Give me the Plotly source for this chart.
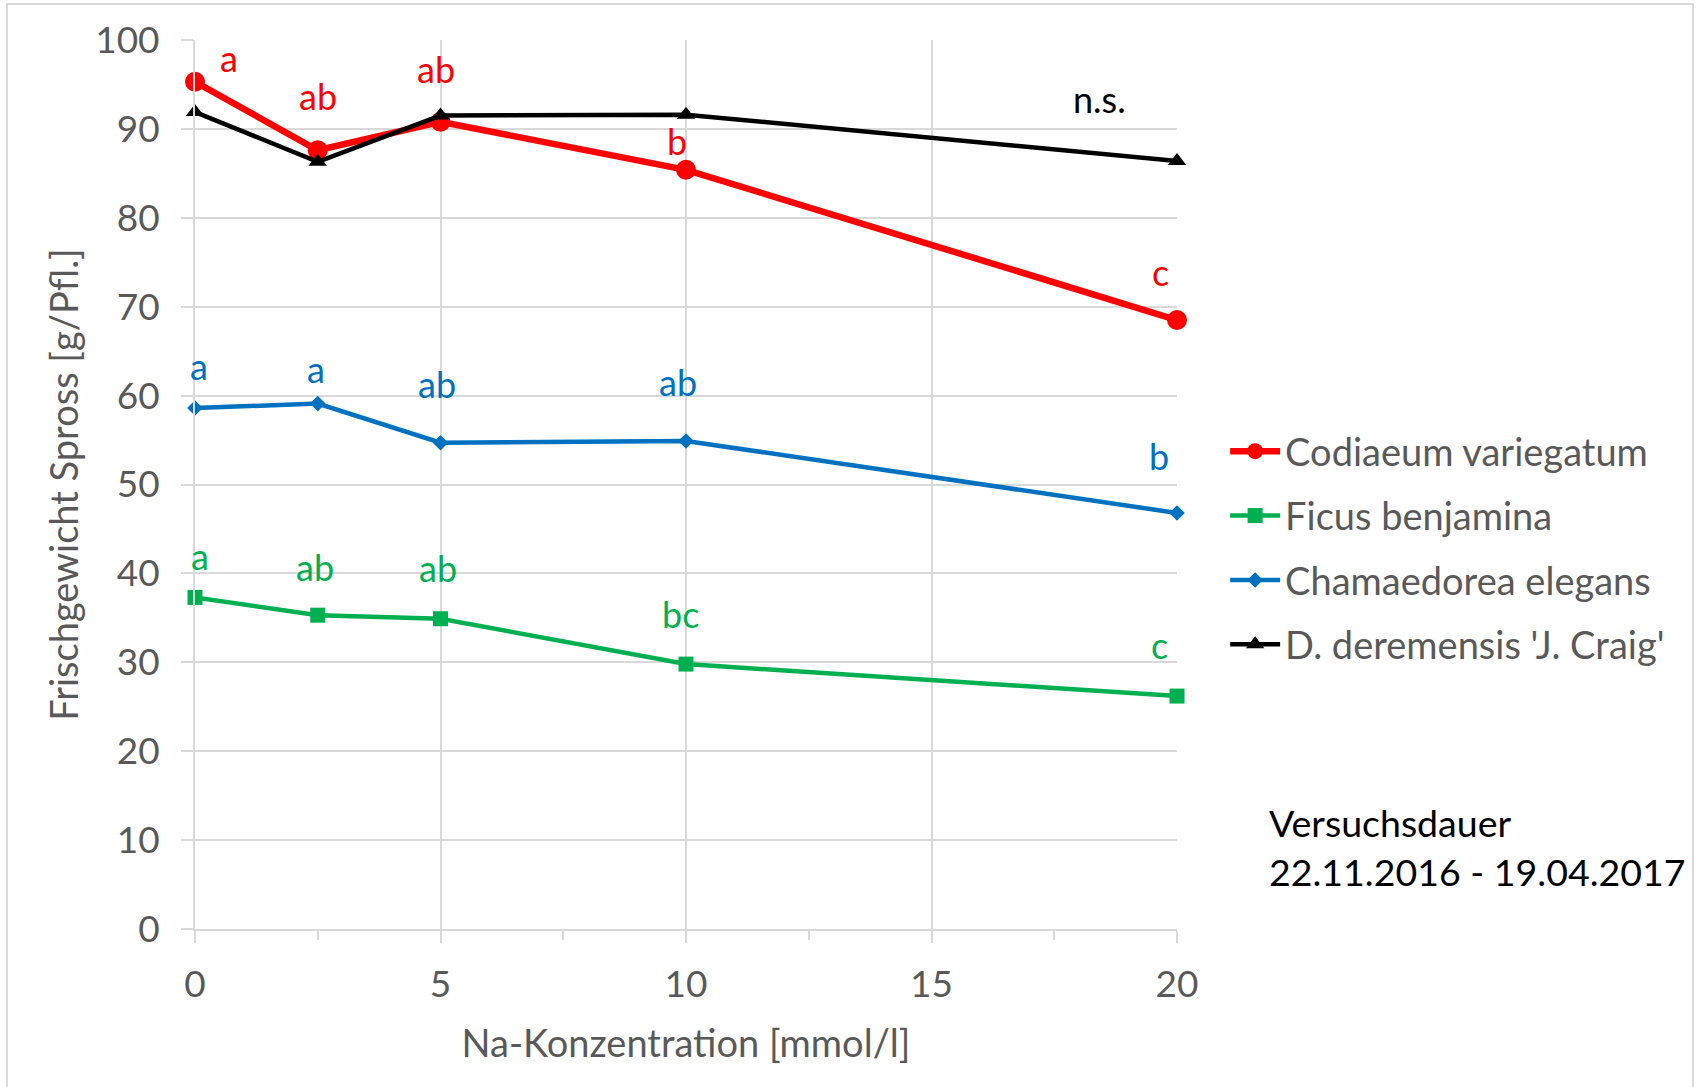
import plotly.graph_objects as go

# ---- data ----
na_conc = [0, 2.5, 5, 10, 20]
codiaeum = [95.3, 87.6, 90.8, 85.4, 68.5]
ficus = [37.3, 35.3, 34.9, 29.8, 26.2]
chamaedorea = [58.6, 59.1, 54.7, 54.9, 46.8]
dracaena = [91.9, 86.3, 91.5, 91.6, 86.4]

codiaeum_letters = ["a", "ab", "ab", "b", "c"]
ficus_letters = ["a", "ab", "ab", "bc", "c"]
chamaedorea_letters = ["a", "a", "ab", "ab", "b"]
dracaena_label = "n.s."

series_names = ["Codiaeum variegatum", "Ficus benjamina",
                "Chamaedorea elegans", "D. deremensis 'J. Craig'"]

# ---- styles / label offsets (pixels) ----
FONT = "Lato"
GRAY = "#595959"
GRID = "#D9D9D9"
RED, GREEN, BLUE, BLACK = "#FF0000", "#00B050", "#0070C0", "#000000"

red_off = [(34, 24), (0, 54), (-5, 53), (-9, 29), (-17, 48)]
blue_off = [(4, 42), (-2, 35), (-4, 59), (-8, 59), (-18, 57)]
green_off = [(5, 41), (-3, 48), (-3, 51), (-6, 50), (-18, 51)]
ns_off = (-78, 62)

fig = go.Figure()

traces = [
    (codiaeum, series_names[0], RED, "circle", 20, 6.5),
    (ficus, series_names[1], GREEN, "square", 15, 4.5),
    (chamaedorea, series_names[2], BLUE, "diamond", 12, 4.5),
    (dracaena, series_names[3], BLACK, "triangle-up", 16, 4.5),
]
for i, (vals, name, col, sym, msize, lw) in enumerate(traces):
    fig.add_trace(go.Scatter(
        x=na_conc, y=vals, name=name, mode="lines+markers",
        line=dict(color=col, width=lw),
        marker=dict(color=col, symbol=sym, size=msize),
        legendgroup=f"g{i}", cliponaxis=False,
    ))

annotations = []
def add_letters(vals, letters, offs, col):
    for xv, yv, t, (dx, dy) in zip(na_conc, vals, letters, offs):
        annotations.append(dict(
            x=xv, y=yv, text=t, showarrow=False, xref="x", yref="y",
            xshift=dx, yshift=dy, font=dict(family=FONT, size=36, color=col),
        ))

add_letters(codiaeum, codiaeum_letters, red_off, RED)
add_letters(chamaedorea, chamaedorea_letters, blue_off, BLUE)
add_letters(ficus, ficus_letters, green_off, GREEN)
annotations.append(dict(
    x=na_conc[-1], y=dracaena[-1], text=dracaena_label, showarrow=False,
    xshift=ns_off[0], yshift=ns_off[1], font=dict(family=FONT, size=36, color=BLACK),
))
annotations.append(dict(
    x=1.0916, y=0.0928, xref="paper", yref="paper", xanchor="left", yanchor="middle",
    align="left", showarrow=False,
    text="Versuchsdauer<br>22.11.2016 - 19.04.2017",
    font=dict(family=FONT, size=37.5, color=BLACK),
))

fig.update_layout(
    width=1696, height=1087,
    margin=dict(l=195, r=519, t=40, b=158, autoexpand=False),
    paper_bgcolor="white", plot_bgcolor="white",
    font=dict(family=FONT, color=GRAY),
    annotations=annotations,
    showlegend=True,
    legend=dict(
        x=1.049, y=0.4286, xanchor="left", yanchor="middle",
        font=dict(family=FONT, size=38, color=GRAY),
        itemwidth=50, tracegroupgap=12, bgcolor="rgba(0,0,0,0)",
    ),
    shapes=[dict(type="rect", xref="paper", yref="paper",
                 x0=-0.1914, x1=1.5255, y0=-0.185, y1=1.0405,
                 line=dict(color=GRID, width=2), layer="below")],
)

fig.update_xaxes(
    range=[0, 20], tickvals=[0, 5, 10, 15, 20],
    showgrid=True, gridcolor=GRID, gridwidth=2,
    showline=True, linecolor=GRID, linewidth=2,
    ticks="outside", ticklen=12, tickcolor=GRID, tickwidth=2,
    minor=dict(dtick=2.5, ticks="outside", ticklen=9, tickcolor=GRID, tickwidth=2, showgrid=False),
    tickfont=dict(family=FONT, size=37, color=GRAY),
    ticklabelstandoff=10,
    zeroline=False,
    title=dict(text="Na-Konzentration [mmol/l]", font=dict(family=FONT, size=38, color=GRAY), standoff=26),
)
fig.update_yaxes(
    range=[0, 100], dtick=10,
    showgrid=True, gridcolor=GRID, gridwidth=2,
    showline=True, linecolor=GRID, linewidth=2,
    ticks="outside", ticklen=12, tickcolor=GRID, tickwidth=2,
    tickfont=dict(family=FONT, size=37, color=GRAY),
    ticklabelstandoff=14,
    zeroline=False,
    title=dict(text="Frischgewicht Spross [g/Pfl.]", font=dict(family=FONT, size=38, color=GRAY), standoff=5),
)

fig.write_html("out.html")
